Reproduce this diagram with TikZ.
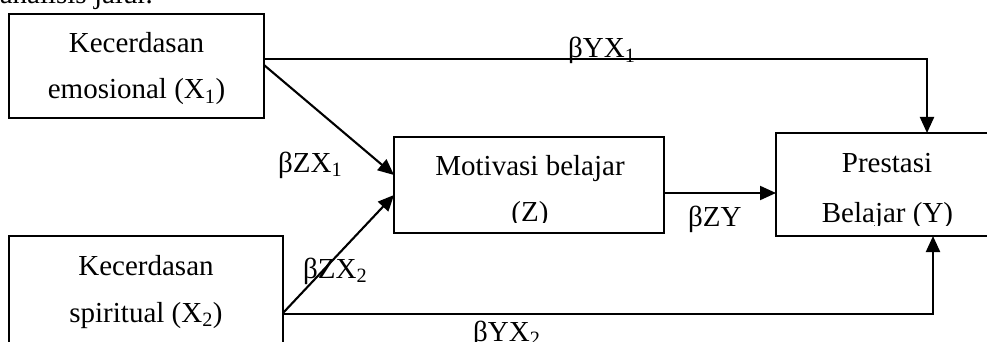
\documentclass[tikz,border=0pt]{standalone}
\usepackage{fontspec}
\setmainfont{Liberation Serif}
\usetikzlibrary{arrows.meta,calc}
\begin{document}
\begin{tikzpicture}[x=1pt,y=-1pt,
  box/.style={draw,line width=1.8pt,inner sep=0pt,outer sep=0pt},
  txt/.style={font=\fontsize{29}{34}\selectfont,anchor=base,inner sep=0pt},
  lbl/.style={font=\fontsize{29}{34}\selectfont,anchor=base west,inner sep=0pt},
  conn/.style={line width=2.1pt},
  arr/.style={conn,-{Triangle[length=16pt,width=14pt]}}]
\useasboundingbox (0,0) rectangle (987,342);
\clip (0,0) rectangle (987,342);
\fill[white] (0,0) rectangle (987,342);
% boxes
\node[box,minimum width=255pt,minimum height=104pt] (X1) at (136.5,66) {};
\node[box,minimum width=274pt,minimum height=150pt] (X2) at (146,311) {};
\node[box,minimum width=270pt,minimum height=96pt] (Z) at (529,185) {};
\node[box,minimum width=224pt,minimum height=103pt] (Y) at (888,184.5) {};
% texts
\node[txt,anchor=base east] (top) at (153,4) {analisis jalur.};
\node[txt] (x1a) at (136.5,53) {Kecerdasan};
\node[txt] (x1b) at (136.5,99) {emosional (X\textsubscript{1})};
\node[txt] (x2a) at (146,275) {Kecerdasan};
\node[txt] (x2b) at (146,322) {spiritual (X\textsubscript{2})};
\node[txt] (za) at (530,175) {Motivasi belajar};
\begin{scope}
\clip (394,137) rectangle (664,222);
\node[txt] (zb) at (530,221) {(Z)};
\end{scope}
\node[txt] (ya) at (887,172) {Prestasi};
\begin{scope}
\clip (776,133) rectangle (987,225);
\node[txt] (yb) at (887.5,222) {Belajar (Y)};
\end{scope}
% connectors
\coordinate (k1) at (927,59);
\draw[arr] (X1.east |- k1) -- (k1) -- (Y.north -| k1);
\coordinate (k2) at (933,314);
\draw[arr] (X2.east |- k2) -- (k2) -- (Y.south -| k2);
\draw[arr] ($(X1.north east)+(0,51)$) -- ($(Z.north west)+(0,38)$);
\draw[arr] ($(X2.north east)+(0,77)$) -- ($(Z.north west)+(0,58)$);
\draw[arr] ($(Z.north east)+(0,56)$) -- ($(Y.north west)+(0,60)$);
% labels
\node[lbl] (l1) at (568,58) {βYX\textsubscript{1}};
\node[lbl] (l2) at (278,172) {βZX\textsubscript{1}};
\node[lbl] (l3) at (303,278) {βZX\textsubscript{2}};
\node[lbl] (l4) at (473,341) {βYX\textsubscript{2}};
\node[lbl] (l5) at (688,226) {βZY};
\end{tikzpicture}
\end{document}
